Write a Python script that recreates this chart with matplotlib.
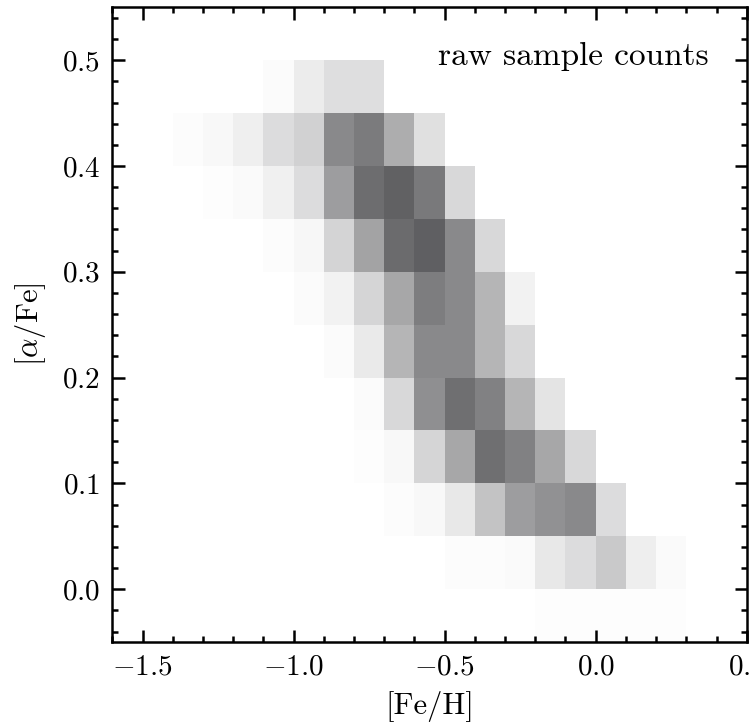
import numpy as np
import matplotlib
matplotlib.use("Agg")
import matplotlib.pyplot as plt
from matplotlib.colors import LinearSegmentedColormap
from matplotlib.ticker import MultipleLocator

# bin edges of the 2D histogram
feh_edges = np.round(np.arange(-1.6, 0.51, 0.1), 2)
alpha_edges = np.round(np.arange(-0.05, 0.551, 0.05), 3)

# counts per bin, rows from top ([0.50, 0.55]) to bottom ([-0.05, 0.00]),
# columns from [-1.6, -1.5] to [0.4, 0.5]
counts_top_down = [
    [0, 0, 0, 0, 0, 0, 0, 0, 0, 0, 0, 0, 0, 0, 0, 0, 0, 0, 0, 0, 0],
    [0, 0, 0, 0, 0, 4, 19, 33, 33, 0, 0, 0, 0, 0, 0, 0, 0, 0, 0, 0, 0],
    [0, 0, 3, 7, 16, 35, 46, 118, 132, 82, 31, 0, 0, 0, 0, 0, 0, 0, 0, 0, 0],
    [0, 0, 0, 2, 5, 15, 35, 98, 146, 158, 134, 39, 0, 0, 0, 0, 0, 0, 0, 0, 0],
    [0, 0, 0, 0, 0, 3, 8, 43, 92, 148, 160, 118, 39, 0, 0, 0, 0, 0, 0, 0, 0],
    [0, 0, 0, 0, 0, 0, 4, 13, 42, 88, 130, 118, 74, 13, 0, 0, 0, 0, 0, 0, 0],
    [0, 0, 0, 0, 0, 0, 0, 4, 21, 74, 118, 118, 74, 39, 0, 0, 0, 0, 0, 0, 0],
    [0, 0, 0, 0, 0, 0, 0, 0, 4, 39, 112, 144, 126, 74, 27, 0, 0, 0, 0, 0, 0],
    [0, 0, 0, 0, 0, 0, 0, 0, 2, 7, 42, 88, 144, 126, 88, 39, 0, 0, 0, 0, 0],
    [0, 0, 0, 0, 0, 0, 0, 0, 0, 3, 7, 23, 60, 98, 110, 118, 35, 0, 0, 0, 0],
    [0, 0, 0, 0, 0, 0, 0, 0, 0, 0, 0, 3, 3, 5, 23, 35, 54, 17, 5, 0, 0],
    [0, 0, 0, 0, 0, 0, 0, 0, 0, 0, 0, 0, 0, 0, 2, 2, 2, 2, 2, 0, 0],
]

plt.rcParams['font.family'] = 'serif'
plt.rcParams['font.serif'] = ['cmr10']
plt.rcParams['mathtext.fontset'] = 'cm'
plt.rcParams['axes.formatter.use_mathtext'] = True

counts = np.array(counts_top_down[::-1], dtype=float)
cmap = LinearSegmentedColormap.from_list('greys', ['#ffffff', '#000004'])

fig = plt.figure(figsize=(7.49, 7.28), dpi=100)
ax = fig.add_axes([0.150, 0.118, 0.847, 0.872])

ax.pcolormesh(feh_edges, alpha_edges, counts, cmap=cmap, vmin=0, vmax=255,
              shading='flat')

ax.set_xlim(-1.6, 0.5)
ax.set_ylim(-0.05, 0.55)
ax.set_xticks([-1.5, -1.0, -0.5, 0.0, 0.5])
ax.set_yticks([0.0, 0.1, 0.2, 0.3, 0.4, 0.5])
ax.xaxis.set_minor_locator(MultipleLocator(0.1))
ax.yaxis.set_minor_locator(MultipleLocator(0.02))

ax.tick_params(which='both', direction='in', top=True, right=True,
               labelsize=21, width=1.8, pad=9)
ax.tick_params(which='major', length=9)
ax.tick_params(which='minor', length=4.5)
for s in ax.spines.values():
    s.set_linewidth(1.8)

ax.set_xlabel('[Fe/H]', fontsize=22, labelpad=7)
ax.set_ylabel(r'[$\alpha$/Fe]', fontsize=22, labelpad=10)

ax.text(0.94, 0.945, 'raw sample counts', transform=ax.transAxes,
        ha='right', va='top', fontsize=24)

fig.savefig('out.png', dpi=100)
